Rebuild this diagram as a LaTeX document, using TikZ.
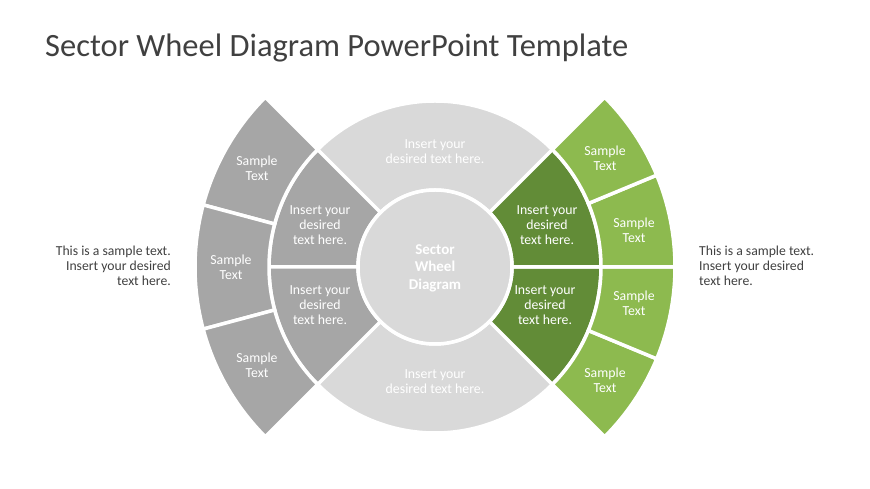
\documentclass[tikz,border=0pt]{standalone}
\usepackage{fontspec}
\setmainfont{Carlito}
\usetikzlibrary{calc}

\definecolor{grayDark}{HTML}{A6A6A6}
\definecolor{grayLight}{HTML}{D9D9D9}
\definecolor{greenDark}{HTML}{628C37}
\definecolor{greenLight}{HTML}{8DBA4F}
\definecolor{textGray}{HTML}{404040}

\tikzset{
  sector/.style={draw=white, line width=3.5pt, line join=miter},
  sectxt/.style={text=white, align=center, inner sep=0, font=\fontsize{13.8}{15}\selectfont},
  sidetxt/.style={text=textGray, inner sep=0, font=\fontsize{13.7}{15}\selectfont},
}

\begin{document}
\begin{tikzpicture}[x=1pt,y=1pt]
        \useasboundingbox (0,0) rectangle (870,489);
        \coordinate (C) at (435,222);
        %% title
        \node[anchor=base west, inner sep=0, text=textGray, font=\fontsize{32.5}{38}\selectfont] (title) at (45,432) {Sector Wheel Diagram PowerPoint Template};
        \begin{scope}[shift={(C)}]
        %% inner ring
        \path[sector, fill=grayLight] (45:77) arc (45:135:77) -- (135:166) arc (135:45:166) -- cycle;
        \path[sector, fill=grayLight] (225:77) arc (225:315:77) -- (315:166) arc (315:225:166) -- cycle;
        \foreach \a in {135,180}
            \path[sector, fill=grayDark] (\a:77) arc (\a:\a+45:77) -- (\a+45:166) arc (\a+45:\a:166) -- cycle;
        \foreach \a in {-45,0}
            \path[sector, fill=greenDark] (\a:77) arc (\a:\a+45:77) -- (\a+45:166) arc (\a+45:\a:166) -- cycle;
        %% outer blades
        \foreach \a in {135,165,195}
            \path[sector, fill=grayDark] (\a:166) arc (\a:\a+30:166) -- (\a+30:240) arc (\a+30:\a:240) -- cycle;
        \foreach \a in {-45,-22.5,0,22.5}
            \path[sector, fill=greenLight] (\a:166) arc (\a:\a+22.5:166) -- (\a+22.5:240) arc (\a+22.5:\a:240) -- cycle;
        %% hub
        \path[sector, fill=grayLight] (0,0) circle (77);
        \node[text=white, align=center, inner sep=0, font=\bfseries\fontsize{15}{17.5}\selectfont] (hub) at (0,-1) {Sector\\Wheel\\Diagram};
        %% inner ring texts
        \node[sectxt] (top) at (0,115) {Insert your\\desired text here.};
        \node[sectxt] (bottom) at (0,-115) {Insert your\\desired text here.};
        \node[sectxt] (leftA) at (-115,42) {Insert your\\desired\\text here.};
        \node[sectxt] (leftB) at (-115,-38) {Insert your\\desired\\text here.};
        \node[sectxt] (rightA) at (112,42) {Insert your\\desired\\text here.};
        \node[sectxt] (rightB) at (110,-38) {Insert your\\desired\\text here.};
        %% outer blade texts
        \node[sectxt] (bladeL1) at (-178,99) {Sample\\Text};
        \node[sectxt] (bladeL2) at (-204,0) {Sample\\Text};
        \node[sectxt] (bladeL3) at (-178,-98) {Sample\\Text};
        \node[sectxt] (bladeR1) at (170,109) {Sample\\Text};
        \node[sectxt] (bladeR2) at (199,37) {Sample\\Text};
        \node[sectxt] (bladeR3) at (199,-36) {Sample\\Text};
        \node[sectxt] (bladeR4) at (170,-113) {Sample\\Text};
        \end{scope}
        %% side notes
        \node[sidetxt, anchor=east, align=right] (noteL) at (171,223) {This is a sample text.\\Insert your desired\\text here.};
        \node[sidetxt, anchor=west, align=left] (noteR) at (699,223) {This is a sample text.\\Insert your desired\\text here.};
    \end{tikzpicture}
\end{document}
